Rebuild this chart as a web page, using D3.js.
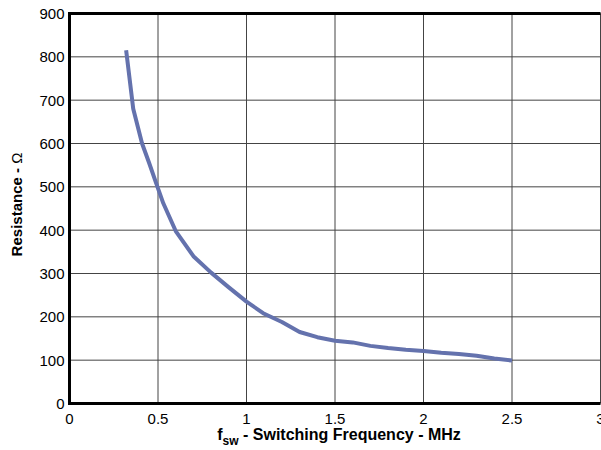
<!DOCTYPE html>
<html>
<head>
<meta charset="utf-8">
<script src="https://cdn.jsdelivr.net/npm/d3@7"></script>
<style>
  body { margin: 0; background: #fff; }
  svg { display: block; font-family: Arial, "Liberation Sans", sans-serif; }
</style>
</head>
<body>
<svg width="601" height="450"></svg>
<script>
// data
const freq = [0.32, 0.36, 0.41, 0.45, 0.49, 0.53, 0.6, 0.7, 0.8, 0.9, 1.0, 1.1, 1.2, 1.3, 1.4, 1.5, 1.6, 1.7, 1.8, 1.9, 2.0, 2.1, 2.2, 2.3, 2.4, 2.5];
const resistance = [815, 680, 600, 555, 508, 462, 398, 340, 302, 268, 235, 207, 188, 165, 153, 145, 141, 133, 128, 124, 121, 117, 114, 110, 104, 99];
const xTicks = [0, 0.5, 1, 1.5, 2, 2.5, 3];
const yTicks = [0, 100, 200, 300, 400, 500, 600, 700, 800, 900];

const margin = {top: 13.5, left: 69.5, bottom: 403.5, right: 600.5};

const svg = d3.select("svg");

const x = d3.scaleLinear().domain([0, 3]).range([margin.left, margin.right]);
const y = d3.scaleLinear().domain([0, 900]).range([margin.bottom, margin.top]);

// grid
svg.append("g")
    .selectAll("line")
    .data(xTicks.slice(1))
    .join("line")
    .attr("x1", d => x(d)).attr("x2", d => x(d))
    .attr("y1", y(900)).attr("y2", y(0))
    .attr("stroke", "#444").attr("stroke-width", 1);

svg.append("g")
    .selectAll("line")
    .data(yTicks.slice(1))
    .join("line")
    .attr("x1", x(0)).attr("x2", x(3))
    .attr("y1", d => y(d)).attr("y2", d => y(d))
    .attr("stroke", "#444").attr("stroke-width", 1);

// frame
svg.append("path")
    .attr("d", `M${x(3)},${y(900)}H${x(0)}V${y(0)}H${x(3)}`)
    .attr("fill", "none")
    .attr("stroke", "#000")
    .attr("stroke-width", 3);

// tick labels
svg.append("g")
    .selectAll("text")
    .data(yTicks)
    .join("text")
    .attr("x", x(0) - 5)
    .attr("y", d => y(d))
    .attr("dy", "0.36em")
    .attr("text-anchor", "end")
    .attr("font-size", 15)
    .text(d => d);

svg.append("g")
    .selectAll("text")
    .data(xTicks)
    .join("text")
    .attr("x", d => x(d))
    .attr("y", y(0) + 20)
    .attr("text-anchor", "middle")
    .attr("font-size", 15)
    .text(d => d);

// curve
const line = d3.line()
    .x(d => x(d[0]))
    .y(d => y(d[1]));

svg.append("path")
    .datum(d3.zip(freq, resistance))
    .attr("d", line)
    .attr("fill", "none")
    .attr("stroke", "#6472ad")
    .attr("stroke-width", 4)
    .attr("stroke-linejoin", "round");

// axis titles
const xt = svg.append("text")
    .attr("x", (x(0) + x(3)) / 2 + 4)
    .attr("y", 440)
    .attr("text-anchor", "middle")
    .attr("font-size", 16)
    .attr("font-weight", "bold");
xt.append("tspan").text("f");
xt.append("tspan").attr("dy", 5).attr("font-size", 12).text("sw");
xt.append("tspan").attr("dy", -5).text(" - Switching Frequency - MHz");

const yt = svg.append("text")
    .attr("transform", `translate(22,${(y(0) + y(900)) / 2 - 4}) rotate(-90)`)
    .attr("text-anchor", "middle")
    .attr("font-size", 15)
    .attr("font-weight", "bold");
yt.append("tspan").text("Resistance - ");
yt.append("tspan").attr("font-weight", "normal").text("Ω");
</script>
</body>
</html>
